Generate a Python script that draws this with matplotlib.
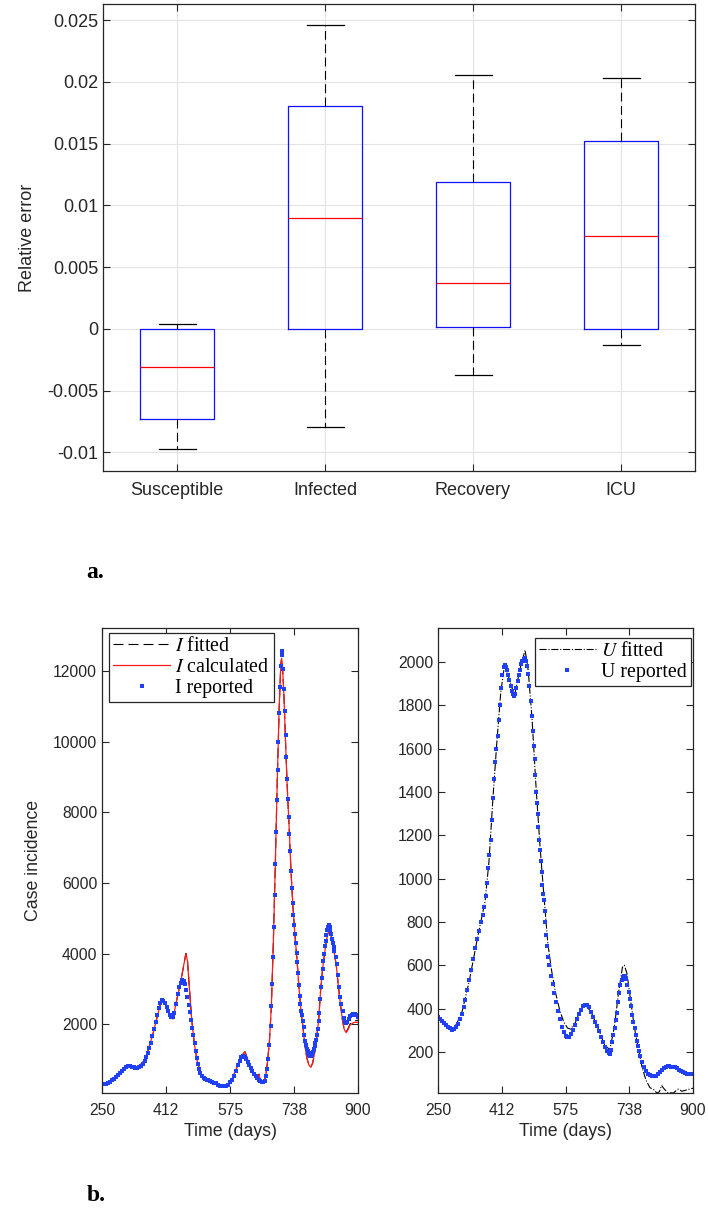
import matplotlib
matplotlib.use('Agg')
import matplotlib.pyplot as plt

plt.rcParams['font.family'] = ['Liberation Sans', 'DejaVu Sans']
plt.rcParams['mathtext.fontset'] = 'stix'

# ---------------- panel a: relative error boxplot ----------------
categories = ['Susceptible', 'Infected', 'Recovery', 'ICU']
whisker_low = [-0.00975, -0.00796, -0.00371, -0.00134]
q1 = [-0.00729, 0.00003, 0.00013, 0.00003]
median = [-0.0031, 0.00898, 0.00374, 0.00754]
q3 = [0.0, 0.01806, 0.01189, 0.01521]
whisker_high = [0.00042, 0.02464, 0.02055, 0.02033]
err_ticks = [-0.01, -0.005, 0, 0.005, 0.01, 0.015, 0.02, 0.025]
err_ticklabels = ['-0.01', '-0.005', '0', '0.005', '0.01', '0.015', '0.02', '0.025']

# ---------------- panel b: infected ----------------
I_rep_days = [250, 255, 260, 265, 270, 275, 280, 285, 290, 295, 300, 305, 310, 315, 320, 325, 330, 335, 340, 345,
              350, 354, 358, 362, 366, 370, 374, 378, 382, 386, 390, 394, 398, 402, 406, 410, 414, 418, 422, 426,
              430, 434, 438, 442, 446, 450, 454, 458, 461, 464, 467, 470, 473, 476, 479, 482, 485, 488, 491, 494,
              497, 500, 504, 508, 512, 516, 520, 525, 530, 535, 540, 545, 550, 555, 560, 565, 570, 575, 580, 585,
              590, 595, 600, 604, 608, 612, 616, 620, 624, 628, 632, 636, 640, 644, 648, 652, 656, 660, 663, 666,
              669, 672, 675, 678, 680, 682, 684, 686, 688, 690, 692, 694, 696, 698, 700, 702, 704, 706, 708, 710,
              712, 714, 716, 718, 720, 722, 724, 726, 728, 730, 732, 734, 736, 738, 740, 742, 744, 746, 748, 750,
              752, 754, 756, 758, 760, 762, 764, 766, 768, 770, 772, 774, 776, 778, 780, 782, 784, 786, 788, 790,
              792, 794, 796, 798, 800, 802, 804, 806, 808, 810, 812, 814, 816, 818, 820, 822, 824, 826, 828, 830,
              832, 834, 836, 838, 840, 843, 846, 849, 852, 855, 858, 861, 864, 867, 870, 873, 876, 880, 884, 888,
              892, 896, 900]
I_rep_vals = [295, 300, 315, 340, 370, 410, 460, 510, 560, 620, 680, 740, 790, 815, 810, 795, 775, 765, 765, 775,
              820, 880, 960, 1060, 1180, 1320, 1480, 1660, 1850, 2050, 2260, 2460, 2610, 2680, 2660, 2590, 2480, 2360, 2260, 2210,
              2210, 2320, 2560, 2850, 3050, 3170, 3240, 3230, 3130, 2980, 2780, 2550, 2330, 2110, 1900, 1680, 1460, 1250, 1050, 880,
              740, 630, 530, 470, 440, 420, 405, 385, 365, 345, 320, 290, 255, 235, 235, 255, 290, 350, 430, 540,
              680, 830, 960, 1060, 1100, 1070, 1000, 930, 850, 760, 680, 600, 530, 470, 420, 380, 355, 360, 400, 520,
              720, 1000, 1400, 1950, 2500, 3150, 3900, 4750, 5650, 6550, 7450, 8350, 9200, 10000, 10800, 11550, 12150, 12560, 12450, 12050,
              11500, 10880, 10200, 9580, 8950, 8380, 7880, 7380, 6900, 6350, 5850, 5420, 5100, 4800, 4550, 4300, 4020, 3760, 3440, 3100,
              2800, 2560, 2380, 2250, 2080, 1920, 1700, 1520, 1400, 1300, 1230, 1170, 1120, 1090, 1090, 1120, 1170, 1220, 1300, 1380,
              1460, 1560, 1680, 1850, 2080, 2320, 2700, 3050, 3320, 3560, 3800, 4000, 4200, 4360, 4520, 4660, 4760, 4800, 4760, 4660,
              4540, 4420, 4300, 4180, 4080, 3900, 3700, 3380, 3050, 2770, 2560, 2360, 2180, 2070, 2020, 2060, 2150, 2230, 2260, 2280,
              2290, 2260, 2200]

I_calc_days = [250, 270, 290, 310, 320, 340, 360, 380, 400, 410, 420, 430, 440, 450, 458, 463, 467, 472, 478, 485,
               492, 500, 510, 530, 555, 565, 580, 595, 608, 613, 620, 632, 645, 649, 652, 657, 662, 666, 670, 675,
               680, 685, 690, 695, 700, 704, 706, 708, 712, 716, 720, 725, 730, 735, 740, 745, 750, 755, 760, 765,
               770, 775, 780, 785, 790, 795, 800, 805, 810, 815, 820, 825, 828, 832, 838, 845, 850, 855, 860, 865,
               870, 875, 880, 890, 900]
I_calc_vals = [290, 365, 555, 790, 805, 760, 1000, 1750, 2650, 2580, 2280, 2150, 2700, 3200, 3700, 4000, 3800, 3000, 2100, 1400,
               950, 620, 450, 360, 230, 250, 430, 850, 1150, 1220, 1000, 680, 440, 580, 380, 330, 380, 560, 900, 1500,
               2500, 4300, 6500, 8900, 11000, 12200, 12350, 12200, 11300, 10000, 8800, 7600, 6300, 5300, 4500, 3850, 3050, 2400, 1950, 1400,
               1050, 850, 780, 900, 1200, 1600, 2100, 2950, 3550, 4000, 4400, 4600, 4620, 4500, 4150, 3650, 3100, 2600, 2150, 1850,
               1760, 1850, 1980, 2050, 2050]
I_fit_vals = [290, 365, 555, 790, 805, 760, 1000, 1750, 2650, 2580, 2280, 2150, 2700, 3200, 3700, 4000, 3800, 3000, 2100, 1400,
              950, 620, 450, 360, 230, 250, 430, 850, 1150, 1220, 1000, 680, 440, 580, 380, 330, 380, 560, 900, 1500,
              2500, 4300, 6500, 8900, 11000, 12200, 12350, 12200, 11300, 10000, 8800, 7600, 6300, 5300, 4500, 3850, 3050, 2400, 1950, 1400,
              1050, 850, 780, 900, 1200, 1600, 2100, 2950, 3550, 4000, 4400, 4600, 4620, 4500, 4150, 3650, 3100, 2600, 2150, 1850,
              1780, 1880, 2010, 2090, 2110]

# ---------------- panel b: ICU ----------------
U_rep_days = [250, 255, 260, 265, 270, 275, 280, 285, 290, 295, 300, 305, 310, 315, 320, 325, 330, 335, 340, 345,
              350, 355, 360, 364, 368, 372, 375, 378, 381, 384, 387, 390, 393, 396, 399, 402, 405, 408, 411, 414,
              417, 420, 423, 426, 429, 432, 435, 438, 441, 444, 447, 450, 453, 456, 459, 462, 465, 468, 471, 474,
              477, 480, 483, 486, 489, 492, 494, 496, 498, 500, 502, 504, 506, 508, 510, 512, 514, 516, 518, 520,
              522, 524, 526, 528, 531, 534, 538, 542, 546, 550, 555, 560, 565, 570, 575, 580, 585, 590, 595, 600,
              605, 610, 615, 620, 625, 630, 635, 640, 645, 650, 655, 660, 665, 670, 675, 680, 685, 688, 691, 694,
              697, 700, 703, 706, 709, 712, 715, 718, 721, 724, 727, 730, 733, 736, 739, 742, 745, 748, 751, 754,
              757, 760, 763, 766, 770, 775, 780, 785, 790, 795, 800, 805, 810, 815, 820, 825, 830, 835, 840, 845,
              850, 855, 860, 865, 870, 875, 880, 885, 890, 895, 900]
U_rep_vals = [360, 352, 343, 335, 325, 315, 308, 303, 305, 315, 330, 350, 375, 405, 440, 485, 530, 580, 630, 680,
              720, 760, 800, 830, 870, 920, 980, 1050, 1110, 1180, 1270, 1370, 1460, 1540, 1600, 1660, 1730, 1800, 1880, 1940,
              1975, 1985, 1978, 1962, 1940, 1915, 1890, 1868, 1850, 1842, 1850, 1880, 1910, 1940, 1965, 1990, 2005, 2015, 2018, 2005,
              1980, 1945, 1890, 1820, 1750, 1680, 1610, 1550, 1480, 1400, 1350, 1300, 1240, 1180, 1130, 1080, 1030, 970, 930, 900,
              850, 800, 740, 690, 640, 600, 550, 515, 470, 430, 390, 350, 315, 290, 275, 268, 270, 282, 300, 322,
              350, 375, 395, 410, 418, 418, 405, 385, 362, 340, 318, 295, 268, 245, 222, 205, 195, 192, 210, 245,
              280, 310, 345, 380, 430, 470, 510, 532, 545, 552, 548, 535, 510, 478, 445, 410, 372, 340, 308, 278,
              250, 225, 203, 180, 155, 130, 112, 100, 93, 90, 88, 90, 96, 105, 115, 124, 130, 133, 133, 132,
              131, 128, 124, 118, 112, 106, 102, 99, 98, 97, 96]

U_fit_days = [250, 270, 290, 310, 330, 350, 370, 380, 390, 400, 410, 420, 430, 445, 460, 472, 480, 490, 500, 510,
              520, 530, 540, 550, 560, 570, 580, 588, 600, 615, 625, 640, 660, 675, 688, 700, 710, 720, 725, 732,
              740, 750, 760, 770, 780, 790, 800, 808, 814, 820, 826, 835, 850, 862, 872, 885, 900]
U_fit_vals = [360, 325, 305, 375, 530, 720, 895, 1080, 1370, 1630, 1860, 1990, 1930, 1845, 1975, 2055, 1960, 1730, 1420, 1150,
              920, 700, 570, 470, 395, 340, 310, 305, 335, 400, 418, 385, 300, 230, 210, 320, 470, 590, 600, 560,
              450, 320, 220, 130, 70, 35, 25, 10, 15, 45, 30, 12, 10, 28, 18, 25, 32]

time_ticks = [250, 412, 575, 738, 900]
I_ticks = [2000, 4000, 6000, 8000, 10000, 12000]
U_ticks = [200, 400, 600, 800, 1000, 1200, 1400, 1600, 1800, 2000]

AX_COL = '#262626'
BLUE_BOX = '#1010ff'
MARK_COL = '#1f40f5'

W, H = 708, 1208
fig = plt.figure(figsize=(W / 100, H / 100), dpi=100)


def frac(l, t, r, b):
    return [l / W, 1 - b / H, (r - l) / W, (b - t) / H]


def style(ax, labelsize, xpad=3.5):
    for s in ax.spines.values():
        s.set_color(AX_COL)
        s.set_linewidth(0.9)
    ax.tick_params(direction='in', top=True, right=True, colors=AX_COL,
                   labelcolor=AX_COL, labelsize=labelsize, length=5, width=0.8)
    ax.tick_params(axis='x', pad=xpad)


# ---- panel a ----
ax1 = fig.add_axes(frac(103, 4, 695, 471))
stats = []
for i in range(len(categories)):
    stats.append(dict(med=median[i], q1=q1[i], q3=q3[i], whislo=whisker_low[i],
                      whishi=whisker_high[i], fliers=[], label=categories[i]))
ax1.bxp(stats, positions=[1, 2, 3, 4], widths=0.5, capwidths=0.25, showfliers=False,
        boxprops=dict(color=BLUE_BOX, linewidth=0.9),
        medianprops=dict(color='#ff0000', linewidth=0.9),
        whiskerprops=dict(color='black', linewidth=0.8, linestyle=(0, (8, 4))),
        capprops=dict(color='black', linewidth=0.9))
ax1.set_xlim(0.5, 4.5)
ax1.set_ylim(-0.0115, 0.0263)
ax1.set_yticks(err_ticks)
ax1.set_yticklabels(err_ticklabels)
ax1.set_xticks([1, 2, 3, 4])
ax1.set_xticklabels(categories)
ax1.grid(True, color='#e3e3e3', linewidth=0.8)
ax1.set_axisbelow(True)
style(ax1, 13, xpad=8)
ax1.set_ylabel('Relative error', fontsize=13, color=AX_COL, labelpad=8)

fig.text(86 / W, 1 - 578 / H, 'a.', fontsize=17, fontweight='bold',
         family='Liberation Serif', ha='left', va='baseline')
fig.text(87 / W, 1 - 1201 / H, 'b.', fontsize=17, fontweight='bold',
         family='Liberation Serif', ha='left', va='baseline')

legend_font = dict(family='Liberation Serif', size=14.3)

# ---- panel b left ----
ax2 = fig.add_axes(frac(102, 628, 358, 1093))
ax2.plot(I_calc_days, I_fit_vals, color='black', linewidth=0.8, linestyle=(0, (9, 4.5)),
         label=r'$I$ fitted')
ax2.plot(I_calc_days, I_calc_vals, color='#ff1a1a', linewidth=0.9, label=r'$I$ calculated')
ax2.plot(I_rep_days, I_rep_vals, linestyle='none', marker='s', markersize=3.1,
         markeredgewidth=0, color=MARK_COL, label='I reported')
ax2.set_xlim(250, 900)
ax2.set_ylim(50, 13220)
ax2.set_xticks(time_ticks)
ax2.set_yticks(I_ticks)
style(ax2, 11.3, xpad=7)
ax2.set_xlabel('Time (days)', fontsize=12.8, color=AX_COL, labelpad=4)
ax2.set_ylabel('Case incidence', fontsize=12.8, color=AX_COL, labelpad=8)
leg = ax2.legend(loc='upper left', bbox_to_anchor=(0.027, 0.989), borderaxespad=0,
                 prop=legend_font, handlelength=2.9, handletextpad=0.25, labelspacing=0.1,
                 borderpad=0.2, fancybox=False, framealpha=1, edgecolor=AX_COL, markerscale=1.1)
leg.get_frame().set_linewidth(0.9)

# ---- panel b right ----
ax3 = fig.add_axes(frac(438, 628, 693, 1093))
ax3.plot(U_fit_days, U_fit_vals, color='black', linewidth=0.8, linestyle='-.',
         label=r'$U$ fitted')
ax3.plot(U_rep_days, U_rep_vals, linestyle='none', marker='s', markersize=3.1,
         markeredgewidth=0, color=MARK_COL, label='U reported')
ax3.set_xlim(250, 900)
ax3.set_ylim(10, 2157)
ax3.set_xticks(time_ticks)
ax3.set_yticks(U_ticks)
style(ax3, 11.3, xpad=7)
ax3.set_xlabel('Time (days)', fontsize=12.8, color=AX_COL, labelpad=4)
leg2 = ax3.legend(loc='upper right', bbox_to_anchor=(0.992, 0.978), borderaxespad=0,
                  prop=legend_font, handlelength=2.9, handletextpad=0.25, labelspacing=0.1,
                  borderpad=0.2, fancybox=False, framealpha=1, edgecolor=AX_COL, markerscale=1.1)
leg2.get_frame().set_linewidth(0.9)

fig.savefig('out.png', dpi=100)
